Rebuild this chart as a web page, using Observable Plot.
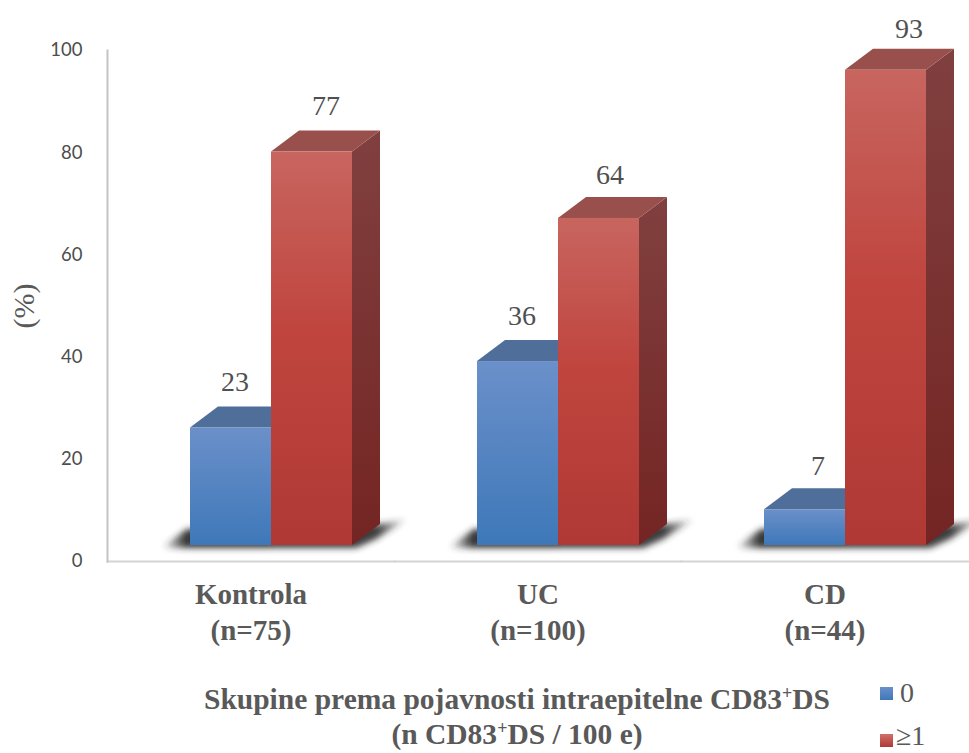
<!DOCTYPE html>
<html>
<head>
<meta charset="utf-8">
<script src="https://cdn.jsdelivr.net/npm/d3@7"></script>
<script src="https://cdn.jsdelivr.net/npm/@observablehq/plot@0.6"></script>
<style>
  html, body { margin: 0; padding: 0; background: #fff; overflow: hidden; }
  #wrap { position: relative; width: 969px; height: 753px; }
  #caption { position: absolute; left: 117px; top: 682px; width: 800px; text-align: center;
    font: bold 29.5px/35px "Liberation Serif", serif; color: #595959; }
  #caption sup { font-size: 18px; line-height: 0; vertical-align: 10px; }
  .leg { position: absolute; left: 880px; font: 28px/26px "Liberation Serif", serif; color: #595959; display: flex; align-items: center; }
  .leg i { display: block; width: 13px; height: 13px; }
</style>
</head>
<body>
<div id="wrap">
  <div id="chart"></div>
  <div id="caption">Skupine prema pojavnosti intraepitelne CD83<sup>+</sup>DS<br>(n CD83<sup>+</sup>DS / 100 e)</div>
  <div class="leg" style="top:680px"><i style="background:linear-gradient(#6b90c9,#3e78b9);margin-right:7px"></i><span id="l0"></span></div>
  <div class="leg" style="top:723px"><i style="background:linear-gradient(#d0706a,#b03a36);margin-right:3px;position:relative;top:4px"></i><span id="l1"></span></div>
</div>
<script>
const groups = ["Kontrola", "UC", "CD"];
const groupLabels = ["Kontrola\n(n=75)", "UC\n(n=100)", "CD\n(n=44)"];
const seriesNames = ["0", "≥1"];
const seriesZero = [23, 36, 7];
const seriesOne = [77, 64, 93];
const yTicks = [0, 20, 40, 60, 80, 100];

const rows = groups.flatMap((g, i) => [
  {group: g, series: seriesNames[0], value: seriesZero[i]},
  {group: g, series: seriesNames[1], value: seriesOne[i]}
]);

document.getElementById("l0").textContent = seriesNames[0];
document.getElementById("l1").textContent = seriesNames[1];

// 3D look, in pixels
const lift = 16, depthX = 28, depthY = -21;
const labelNudge = [4, 14, 4, 11, 13, 23];
const labelRise = [46, 46, 46, 43, 44, 41];
const tone = {
  [seriesNames[0]]: {front: "url(#frontBlue)", top: "#4f6e9a", side: "#3f5f8c"},
  [seriesNames[1]]: {front: "url(#frontRed)", top: "#99504d", side: "url(#sideRed)"}
};
const pts = (a) => a.map((p) => p.join(",")).join(" ");

function shadowRender(index, scales, values) {
  const g = d3.create("svg:g").attr("filter", "url(#soft)");
  const w = scales.x.bandwidth();
  for (const i of index) {
    const x = values.x[i], b = values.y1[i] - lift;
    const first = rows[i].series === seriesNames[0];
    const p = first
      ? [[x - 28, b + 2], [x - 3, b - 16], [x + w, b - 16], [x + w, b + 3], [x - 20, b + 3]]
      : [[x, b - 16], [x + w + 28, b - 21], [x + w + 56, b - 26], [x + w + 24, b - 6], [x + w + 4, b + 3], [x, b + 3]];
    g.append("polygon").attr("points", pts(p)).attr("fill", first ? "url(#shadeLeft)" : "url(#shadeRight)");
  }
  return g.node();
}

function boxRender(index, scales, values) {
  const g = d3.create("svg:g");
  const w = scales.x.bandwidth();
  for (const i of index) {
    const x = values.x[i], b = values.y1[i] - lift, t = values.y2[i] - lift;
    const c = tone[rows[i].series];
    g.append("polygon").attr("fill", c.side)
      .attr("points", pts([[x + w, t], [x + w + depthX, t + depthY], [x + w + depthX, b + depthY], [x + w, b]]));
    g.append("polygon").attr("fill", c.top)
      .attr("points", pts([[x, t], [x + depthX, t + depthY], [x + w + depthX, t + depthY], [x + w, t]]));
    g.append("rect").attr("x", x).attr("y", t).attr("width", w).attr("height", b - t).attr("fill", c.front);
  }
  return g.node();
}

const chart = Plot.plot({
  width: 969,
  height: 670,
  marginTop: 50,
  marginBottom: 109,
  marginLeft: 106,
  marginRight: 0,
  style: {background: "transparent", overflow: "visible"},
  fx: {domain: groups, padding: 0, axis: null, label: null},
  x: {domain: seriesNames, paddingInner: 0, paddingOuter: 0.753, align: 0.667, axis: null, label: null},
  y: {domain: [0, 100], axis: null, label: null},
  marks: [
    Plot.barY(rows, {fx: "group", x: "series", y: "value", render: shadowRender}),
    Plot.barY(rows, {fx: "group", x: "series", y: "value", render: boxRender}),
    Plot.frame({anchor: "bottom", stroke: "#d4d4d4", strokeWidth: 2}),
    Plot.frame({anchor: "left", facetAnchor: "left", stroke: "#c4c4c4", strokeWidth: 2}),
    Plot.axisY({
      anchor: "left", ticks: yTicks, tickSize: 0, tickPadding: 25, label: null,
      fontFamily: "Lato", fontSize: 18.5, color: "#4d4d4d"
    }),
    Plot.axisFx({
      anchor: "bottom", tickSize: 0, tickPadding: 17, label: null,
      tickFormat: (d) => groupLabels[groups.indexOf(d)],
      lineHeight: 1.24,
      fontFamily: "Liberation Serif", fontSize: 29, fontWeight: "bold", color: "#595959"
    }),
    Plot.text(["(%)"], {
      frameAnchor: "left", facetAnchor: "left", rotate: -90, dx: -83, textAnchor: "middle",
      fontFamily: "Liberation Serif", fontSize: 30, fill: "#595959"
    }),
    ...rows.map((r, i) => Plot.text([r], {
      fx: "group", x: "series", y: "value", text: "value",
      dx: labelNudge[i], dy: -(lift + labelRise[i]),
      fontFamily: "Liberation Serif", fontSize: 28, fill: "#505050"
    }))
  ]
});

const defs = d3.select(chart).insert("defs", ":first-child");
function grad(id, stops) {
  const g = defs.append("linearGradient").attr("id", id).attr("x1", 0).attr("y1", 0).attr("x2", 0).attr("y2", 1);
  stops.forEach(([o, c]) => g.append("stop").attr("offset", o).attr("stop-color", c));
}
function shade(id, stops) {
  const g = defs.append("linearGradient").attr("id", id);
  stops.forEach(([o, a]) => g.append("stop").attr("offset", o).attr("stop-color", "#2a2a2a").attr("stop-opacity", a));
}
grad("frontBlue", [[0, "#6b90c9"], [1, "#3e78b9"]]);
grad("frontRed", [[0, "#c8655f"], [0.45, "#c0453f"], [1, "#b03935"]]);
grad("sideRed", [[0, "#80403f"], [1, "#742523"]]);
shade("shadeLeft", [[0, 0], [0.22, 0.95], [1, 0.95]]);
shade("shadeRight", [[0, 0.9], [0.78, 0.9], [1, 0]]);
defs.append("filter").attr("id", "soft").attr("x", "-30%").attr("y", "-100%").attr("width", "160%").attr("height", "300%")
  .append("feGaussianBlur").attr("stdDeviation", 3);

document.getElementById("chart").append(chart);
</script>
</body>
</html>
